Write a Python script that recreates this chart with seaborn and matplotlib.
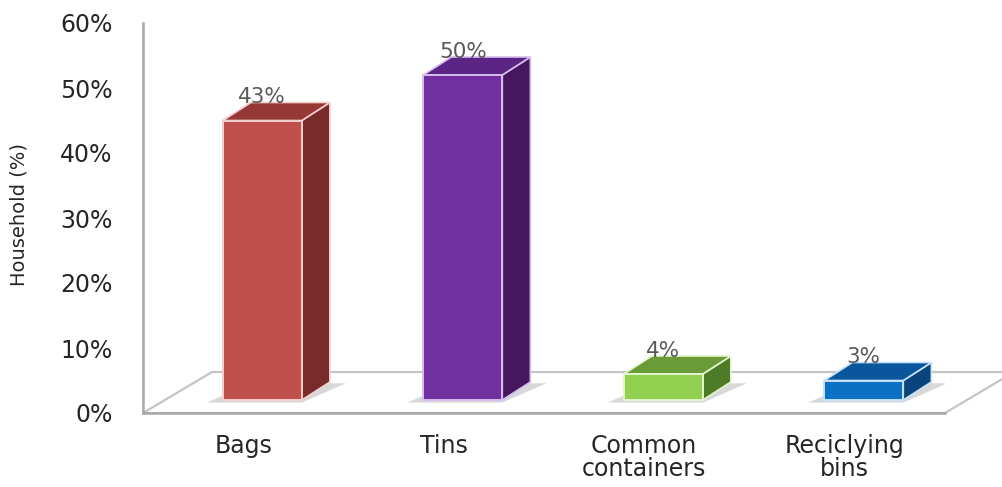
import numpy as np
import matplotlib
matplotlib.use('Agg')
import matplotlib.pyplot as plt
import seaborn as sns
from matplotlib.patches import Polygon

# data
categories = ['Bags', 'Tins', 'Common\ncontainers', 'Reciclying\nbins']
values = [43, 50, 4, 3]
value_labels = ['43%', '50%', '4%', '3%']
yticks = [0, 10, 20, 30, 40, 50, 60]
ytick_labels = ['0%', '10%', '20%', '30%', '40%', '50%', '60%']

front_colors = ['#C0504D', '#7030A0', '#92D050', '#0A70C4']
top_colors = ['#963835', '#5A2585', '#6A9B38', '#0A569C']
side_colors = ['#782B2A', '#44175F', '#4E7B27', '#0B437C']
edge_colors = ['#F4CFCE', '#D8BDEE', '#E4F6CC', '#C4E2FA']

sns.set_style('white')
plt.rcParams['font.family'] = ['DejaVu Sans']

fig = plt.figure(figsize=(10.03, 4.87), dpi=100)
ax = fig.add_axes([143 / 1003, 74 / 487, 802 / 1003, 390 / 487])

sns.barplot(x=categories, y=values, hue=categories, palette=front_colors,
            legend=False, ax=ax, width=0.394, saturation=1, zorder=3)

# fake 3d geometry (in data units)
shift = 0.095   # bars sit mid-depth on the floor
base = 2.0
dx, dy = 0.14, 2.77
fdx, fdy = 0.344, 6.3

floor = Polygon([(-0.5, 0), (3.5, 0), (3.5 + fdx, fdy), (-0.5 + fdx, fdy)],
                closed=True, facecolor='white', edgecolor='#C4C4C4', lw=1.6,
                clip_on=False, zorder=1)
ax.add_patch(floor)

for i, cont in enumerate(ax.containers):
    bar = cont[0]
    x0 = bar.get_x() + shift
    w = bar.get_width()
    h = bar.get_height()
    x1 = x0 + w
    bar.set_x(x0)
    bar.set_y(base)
    bar.set_edgecolor(edge_colors[i])
    bar.set_linewidth(1.4)
    top = base + h
    # soft shadow on the floor
    ax.add_patch(Polygon([(x0 - 0.08, base - 0.4), (x1, base - 0.4),
                          (x1 + dx + 0.08, base + dy - 0.2), (x0 + dx, base + dy - 0.2)],
                         closed=True, facecolor='#C8C8C8', edgecolor='none',
                         alpha=0.7, zorder=2))
    ax.add_patch(Polygon([(x1, base), (x1 + dx, base + dy), (x1 + dx, top + dy), (x1, top)],
                         closed=True, facecolor=side_colors[i], edgecolor=edge_colors[i],
                         lw=1.2, zorder=3, clip_on=False))
    ax.add_patch(Polygon([(x0, top), (x0 + dx, top + dy), (x1 + dx, top + dy), (x1, top)],
                         closed=True, facecolor=top_colors[i], edgecolor=edge_colors[i],
                         lw=1.2, zorder=3, clip_on=False))
    bar.set_zorder(4)
    ax.text(x0 + w / 2, top + dy - 0.7, value_labels[i], ha='center', va='bottom',
            fontsize=15.5, color='#595959', zorder=5)

ax.set_xlim(-0.5, 3.5)
ax.set_ylim(0, 60)
ax.set_yticks(yticks)
ax.set_yticklabels(ytick_labels)
ax.set_xticks(range(len(categories)))
ax.set_xticklabels(categories, linespacing=0.95)
ax.set_xticks([-0.5, 0.5, 1.5, 2.5, 3.5], minor=True)
ax.tick_params(axis='x', which='major', length=0, pad=15, labelsize=17, labelcolor='#262626')
ax.tick_params(axis='x', which='minor', length=4, width=1.2, color='#A0A0A0', direction='out')
ax.tick_params(axis='y', length=5, width=1.2, color='#A0A0A0', direction='out',
               pad=17, labelsize=17, labelcolor='#262626')
ax.set_ylabel('Household (%)', fontsize=14, color='#262626')
ax.yaxis.set_label_coords(-114 / 802, 0.51)
ax.set_xlabel('')

for loc, spine in ax.spines.items():
    if loc in ['left', 'bottom']:
        spine.set_color('#A6A6A6')
        spine.set_linewidth(1.8)
        spine.set_zorder(2)
    else:
        spine.set_visible(False)

fig.savefig('out.png', dpi=100, facecolor='white')
